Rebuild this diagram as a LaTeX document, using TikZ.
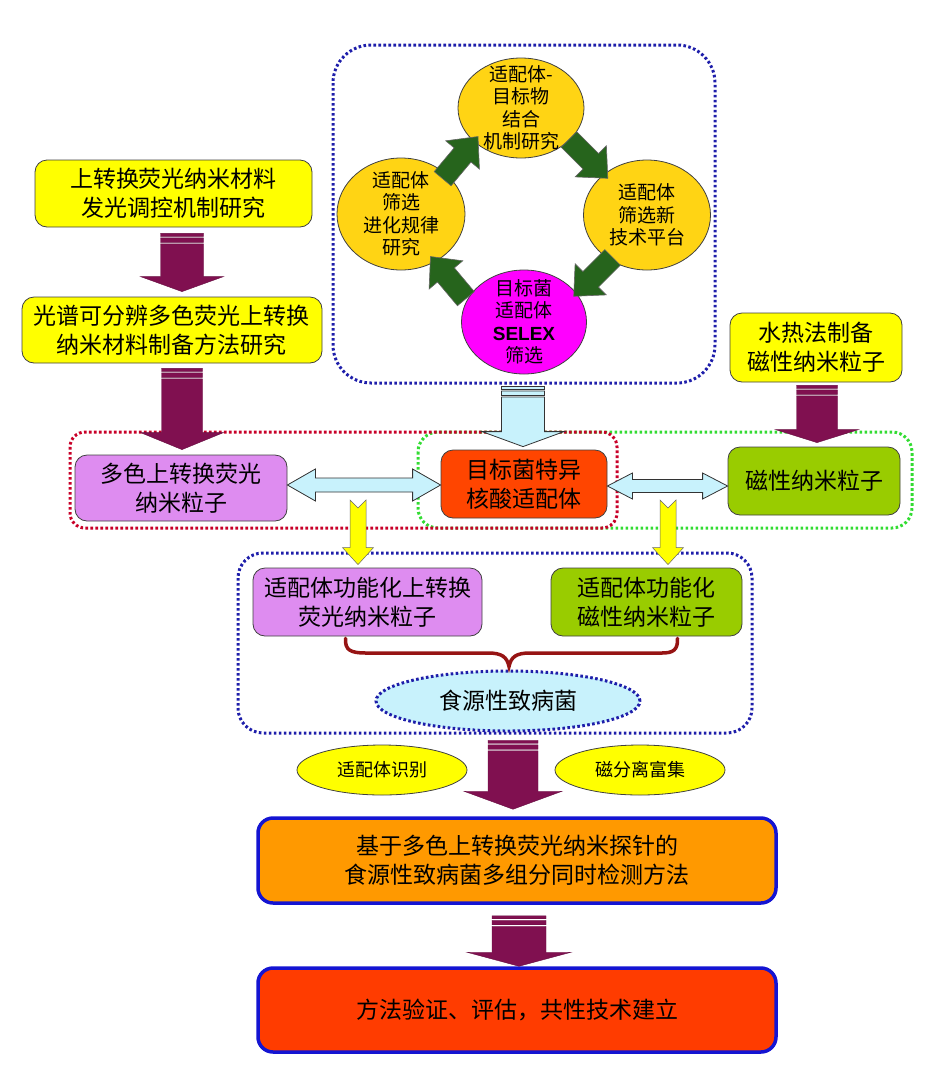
\documentclass[tikz,border=0pt]{standalone}
\usepackage{fontspec}
\setmainfont{Noto Sans CJK SC}
\newfontfamily\latinbold{Liberation Sans}
\usetikzlibrary{calc,shapes.geometric}
\definecolor{cyel}{RGB}{255,255,0}
\definecolor{cgold}{RGB}{255,212,20}
\definecolor{cmag}{RGB}{255,0,255}
\definecolor{cpur}{RGB}{222,140,240}
\definecolor{cred}{RGB}{255,69,0}
\definecolor{cgrn}{RGB}{153,204,0}
\definecolor{ccyan}{RGB}{200,242,252}
\definecolor{corg}{RGB}{255,153,0}
\definecolor{cred2}{RGB}{255,60,0}
\definecolor{cmaroon}{RGB}{128,16,80}
\definecolor{cdgreen}{RGB}{38,100,28}
\definecolor{cdotblue}{RGB}{30,30,170}
\definecolor{cdotred}{RGB}{200,0,40}
\definecolor{cdotgreen}{RGB}{50,220,50}
\definecolor{cbrace}{RGB}{150,20,20}
\definecolor{cframe}{RGB}{20,20,210}

% fat down arrow: #1 top coord, #2 tip coord, #3 shaft half, #4 head half, #5 head length, #6 style
\newcommand{\fatdown}[6]{%
  \path[#6] let \p1=(#1), \p2=(#2) in
    (\x1-#3pt,\y1) rectangle (\x1+#3pt,\y1-3pt)
    (\x1-#3pt,\y1-4.5pt) rectangle (\x1+#3pt,\y1-9pt)
    (\x1-#3pt,\y1-10.5pt) -- (\x1-#3pt,\y2+#5pt) -- (\x1-#4pt,\y2+#5pt) -- (\x2,\y2)
    -- (\x1+#4pt,\y2+#5pt) -- (\x1+#3pt,\y2+#5pt) -- (\x1+#3pt,\y1-10.5pt) -- cycle;}
% double horizontal arrow: #1 left coord, #2 right coord, #3 shaft half, #4 head half, #5 head length
\newcommand{\dblarrow}[5]{%
  \path[dbl] let \p1=(#1), \p2=(#2) in
    (\x1,\y1) -- (\x1+#5pt,\y1+#4pt) -- (\x1+#5pt,\y1+#3pt) -- (\x2-#5pt,\y1+#3pt)
    -- (\x2-#5pt,\y1+#4pt) -- (\x2,\y1) -- (\x2-#5pt,\y1-#4pt) -- (\x2-#5pt,\y1-#3pt)
    -- (\x1+#5pt,\y1-#3pt) -- (\x1+#5pt,\y1-#4pt) -- cycle;}
% yellow notched down arrow: #1 top coord, #2 tip coord
\newcommand{\notchdown}[2]{%
  \path[yarr] let \p1=(#1), \p2=(#2) in
    (\x1-8pt,\y1) -- (\x1,\y1-8pt) -- (\x1+8pt,\y1) -- (\x1+8pt,\y2+17pt)
    -- (\x1+15.5pt,\y2+17pt) -- (\x2,\y2) -- (\x1-15.5pt,\y2+17pt) -- (\x1-8pt,\y2+17pt) -- cycle;}
% green block arrow: #1 centre coord name, #2 angle
\newcommand{\garrow}[2]{%
  \path[garr, shift={(#1)}, rotate=#2]
    (-27,-11) -- (4,-11) -- (4,-22) -- (28,0) -- (4,22) -- (4,11) -- (-27,11) -- cycle;}

\begin{document}
\begin{tikzpicture}[x=1pt,y=-1pt,
  txt/.style={font=\fontsize{23}{29}\selectfont},
  box/.style={draw=black!75, line width=0.8pt, rounded corners=12pt, align=center, inner sep=0pt, txt},
  ybox/.style={box, fill=cyel},
  pbox/.style={box, fill=cpur},
  rbox/.style={box, fill=cred},
  gbox/.style={box, fill=cgrn},
  bigbox/.style={draw=cframe, line width=3.5pt, rounded corners=15pt, align=center, inner sep=0pt, txt},
  cell/.style={ellipse, draw=black!75, line width=0.8pt, inner sep=0pt},
  ctext/.style={align=center, font=\fontsize{19}{22.5}\selectfont},
  dotframe/.style={draw=#1, line width=3pt, dash pattern=on 2.6pt off 2.4pt},
  fat/.style={fill=cmaroon, draw=cmaroon!80!black, line width=0.4pt},
  fatblue/.style={fill=ccyan, draw=black!80, line width=0.8pt},
  dbl/.style={fill=ccyan, draw=black!80, line width=0.8pt},
  yarr/.style={fill=cyel, draw=black!60, line width=0.5pt},
  garr/.style={fill=cdgreen, draw=black!60, line width=0.6pt},
  brace/.style={draw=cbrace, line width=3.5pt, line cap=round}
]
\useasboundingbox (0,0) rectangle (939,1080);

% dotted frames
\draw[dotframe=cdotblue, rounded corners=38pt] (333,45) rectangle (715,383);
\draw[dotframe=cdotblue, rounded corners=25pt] (238,553) rectangle (752,733);
\draw[dotframe=cdotgreen, rounded corners=20pt] (418,432) rectangle (912,528);
\draw[dotframe=cdotred, rounded corners=15pt] (70,432) rectangle (617,528);

% top-left chain
\node[ybox, minimum width=277, minimum height=67] (b1) at (173.5,193.5) {上转换荧光纳米材料\\发光调控机制研究};
\node[ybox, minimum width=300, minimum height=66] (b2) at (172,330) {光谱可分辨多色荧光上转换\\纳米材料制备方法研究};
\node[ybox, minimum width=172, minimum height=69] (b3) at (816,347.5) {水热法制备\\磁性纳米粒子};

% SELEX cycle
\node[cell, fill=cgold, minimum width=126, minimum height=100,
  label={[ctext]center:适配体-\\目标物\\结合\\机制研究}] (e1) at (521,108) {};
\node[cell, fill=cgold, minimum width=127, minimum height=110,
  label={[ctext]center:适配体\\筛选新\\技术平台}] (e2) at (647,215) {};
\node[cell, fill=cgold, minimum width=128, minimum height=112,
  label={[ctext]center:适配体\\筛选\\进化规律\\研究}] (e3) at (401,214) {};
\node[cell, fill=cmag, minimum width=125, minimum height=104,
  label={[ctext]center:目标菌\\适配体\\{\latinbold\bfseries SELEX}\\筛选}] (e4) at (524,322) {};

\coordinate (g1) at ($(e3)!0.5!(e1)+(-1,-3)$);
\coordinate (g2) at ($(e1)!0.5!(e2)+(4,-3)$);
\coordinate (g3) at ($(e2)!0.5!(e4)+(8,8)$);
\coordinate (g4) at ($(e4)!0.5!(e3)+(-14,10)$);
\garrow{g1}{50}
\garrow{g2}{-45}
\garrow{g3}{-135}
\garrow{g4}{130}

% middle row
\node[pbox, minimum width=212, minimum height=66] (m1) at (181,488) {多色上转换荧光\\纳米粒子};
\node[rbox, minimum width=166, minimum height=68] (m2) at (524,484) {目标菌特异\\核酸适配体};
\node[gbox, minimum width=172, minimum height=68] (m3) at (814,481) {磁性纳米粒子};

% lower group
\node[pbox, minimum width=229, minimum height=68] (l1) at (367.5,602) {适配体功能化上转换\\荧光纳米粒子};
\node[gbox, minimum width=191, minimum height=68] (l2) at (646.5,602) {适配体功能化\\磁性纳米粒子};
\node[ellipse, fill=ccyan, dotframe=cdotblue, inner sep=0pt, minimum width=264, minimum height=60, txt] (ef) at (508,701) {食源性致病菌};

\node[cell, fill=cyel, minimum width=170, minimum height=50, font=\fontsize{18}{22}\selectfont] (s1) at (382,770) {适配体识别};
\node[cell, fill=cyel, minimum width=170, minimum height=50, font=\fontsize{18}{22}\selectfont] (s2) at (640,770) {磁分离富集};

\node[bigbox, fill=corg, minimum width=518, minimum height=85] (o1) at (517,860.5) {基于多色上转换荧光纳米探针的\\食源性致病菌多组分同时检测方法};
\node[bigbox, fill=cred2, minimum width=518, minimum height=84] (o2) at (517,1010) {方法验证、评估，共性技术建立};

% fat arrows
\coordinate (a1t) at ($(b1.south)+(8.5,6)$);
\coordinate (a1b) at ($(a1t |- b2.north)+(0,-5)$);
\fatdown{a1t}{a1b}{21.5}{41.5}{15}{fat}
\coordinate (a2t) at ($(b2.south)+(10,5)$);
\coordinate (a2b) at ($(a2t |- m1.north)+(0,-5)$);
\fatdown{a2t}{a2b}{20.5}{41.5}{17}{fat}
\coordinate (a3t) at ($(b3.south)+(1,3)$);
\coordinate (a3b) at ($(a3t |- m3.north)+(0,-4)$);
\fatdown{a3t}{a3b}{20.5}{41.5}{13}{fat}
\coordinate (a6t) at ($(e4.south)+(-1,12)$);
\coordinate (a6b) at ($(a6t |- m2.north)+(0,-3)$);
\fatdown{a6t}{a6b}{21.5}{41}{15}{fatblue}
\coordinate (a4t) at ($(o1.north)+(-4,-76)$);
\coordinate (a4b) at ($(o1.north)+(-4,-7)$);
\fatdown{a4t}{a4b}{25}{49}{18}{fat}
\coordinate (a5t) at ($(o1.south)+(2,11)$);
\coordinate (a5b) at (a5t |- o2.north);
\fatdown{a5t}{a5b}{27}{52}{14}{fat}

% double arrows
\coordinate (d1l) at ($(m1.east)+(0,-3)$);
\coordinate (d1r) at (m2.west);
\dblarrow{d1l}{d1r}{7}{16}{28}
\coordinate (d2l) at ($(m2.east)+(0,2)$);
\coordinate (d2r) at (m3.west);
\dblarrow{d2l}{d2r}{6.5}{13}{25}

% yellow arrows
\coordinate (y1t) at (358,500);
\coordinate (y1b) at ($(y1t |- l1.north)+(0,-3)$);
\notchdown{y1t}{y1b}
\coordinate (y2t) at (668,500);
\coordinate (y2b) at ($(y2t |- l2.north)+(0,-3)$);
\notchdown{y2t}{y2b}

% brace
\coordinate (brL) at ($(l1.south)+(-22,2)$);
\coordinate (brR) at ($(l2.south)+(31,2)$);
\coordinate (brT) at ($(ef.north)+(1,-3)$);
\draw[brace] (brL) .. controls (345,650) and (350,653) .. (366,653) -- (488,653)
  .. controls (502,653) and (507,657) .. (brT)
  .. controls (511,657) and (516,653) .. (530,653) -- (662,653)
  .. controls (673,653) and (678,650) .. (brR);
\end{tikzpicture}
\end{document}
